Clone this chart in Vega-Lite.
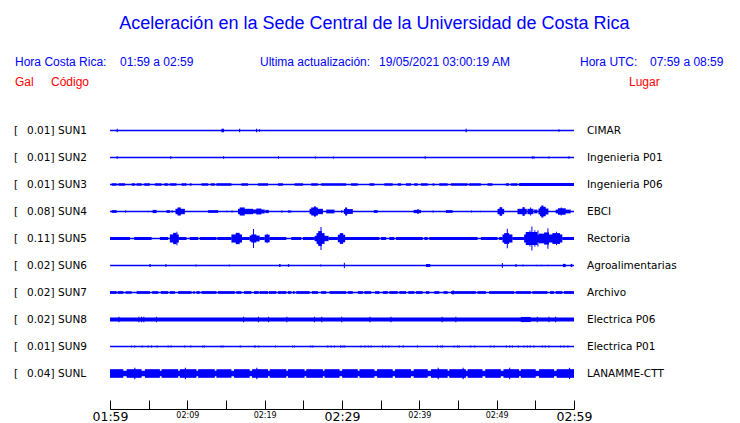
{
"$schema": "https://vega.github.io/schema/vega-lite/v6.json",
"width": 464, "height": 270, "autosize": "none",
"padding": {"left": 110, "top": 117, "right": 166, "bottom": 36},
"background": "#ffffff",
"config": {"view": {"stroke": null}},
"datasets": {
"stations": [
{"c":"SUN1","g":"0.01","l":"CIMAR"},
{"c":"SUN2","g":"0.01","l":"Ingenieria P01"},
{"c":"SUN3","g":"0.01","l":"Ingenieria P06"},
{"c":"SUN4","g":"0.08","l":"EBCI"},
{"c":"SUN5","g":"0.11","l":"Rectoria"},
{"c":"SUN6","g":"0.02","l":"Agroalimentarias"},
{"c":"SUN7","g":"0.02","l":"Archivo"},
{"c":"SUN8","g":"0.02","l":"Electrica P06"},
{"c":"SUN9","g":"0.01","l":"Electrica P01"},
{"c":"SUNL","g":"0.04","l":"LANAMME-CTT"}
],
"segments": [
{"c":"SUN1","a":0.86,"b":1.0,"h":0.13},{"c":"SUN1","a":14.4,"b":14.75,"h":0.13},{"c":"SUN1","a":16.69,"b":16.84,"h":0.13},{"c":"SUN1","a":18.88,"b":19.03,"h":0.13},{"c":"SUN1","a":19.27,"b":19.4,"h":0.09},{"c":"SUN1","a":45.98,"b":46.13,"h":0.13},{"c":"SUN1","a":57.98,"b":58.13,"h":0.1},
{"c":"SUN2","a":0.86,"b":1.0,"h":0.09},{"c":"SUN2","a":7.78,"b":7.92,"h":0.09},{"c":"SUN2","a":14.62,"b":14.76,"h":0.09},{"c":"SUN2","a":21.72,"b":21.86,"h":0.09},{"c":"SUN2","a":26.49,"b":26.63,"h":0.08},{"c":"SUN2","a":28.82,"b":28.96,"h":0.08},{"c":"SUN2","a":40.69,"b":40.83,"h":0.09},{"c":"SUN2","a":54.54,"b":54.68,"h":0.09},{"c":"SUN2","a":54.75,"b":54.89,"h":0.09},{"c":"SUN2","a":56.69,"b":56.83,"h":0.08},{"c":"SUN2","a":59.27,"b":59.41,"h":0.09},
{"c":"SUN3","a":0.22,"b":0.86,"h":0.09},{"c":"SUN3","a":1.08,"b":1.94,"h":0.09},{"c":"SUN3","a":2.8,"b":3.23,"h":0.09},{"c":"SUN3","a":3.44,"b":4.09,"h":0.09},{"c":"SUN3","a":4.43,"b":5.16,"h":0.09},{"c":"SUN3","a":5.81,"b":6.67,"h":0.09},{"c":"SUN3","a":7.01,"b":7.53,"h":0.09},{"c":"SUN3","a":7.74,"b":8.6,"h":0.09},{"c":"SUN3","a":9.25,"b":9.89,"h":0.09},{"c":"SUN3","a":10.32,"b":10.54,"h":0.09},{"c":"SUN3","a":11.83,"b":12.69,"h":0.09},{"c":"SUN3","a":13.03,"b":13.55,"h":0.09},{"c":"SUN3","a":13.76,"b":15.7,"h":0.09},{"c":"SUN3","a":16.99,"b":17.85,"h":0.09},{"c":"SUN3","a":19.14,"b":20.43,"h":0.09},{"c":"SUN3","a":21.72,"b":22.37,"h":0.09},{"c":"SUN3","a":23.87,"b":24.95,"h":0.09},{"c":"SUN3","a":26.02,"b":26.88,"h":0.09},{"c":"SUN3","a":27.31,"b":30.54,"h":0.09},{"c":"SUN3","a":31.18,"b":32.04,"h":0.09},{"c":"SUN3","a":33.55,"b":34.19,"h":0.09},{"c":"SUN3","a":35.48,"b":36.56,"h":0.09},{"c":"SUN3","a":37.2,"b":37.63,"h":0.09},{"c":"SUN3","a":38.28,"b":38.92,"h":0.09},{"c":"SUN3","a":39.35,"b":39.78,"h":0.09},{"c":"SUN3","a":40.22,"b":41.08,"h":0.09},{"c":"SUN3","a":41.72,"b":41.94,"h":0.09},{"c":"SUN3","a":42.58,"b":43.66,"h":0.09},{"c":"SUN3","a":44.09,"b":46.24,"h":0.09},{"c":"SUN3","a":46.45,"b":47.96,"h":0.09},{"c":"SUN3","a":48.82,"b":49.46,"h":0.09},{"c":"SUN3","a":51.18,"b":51.61,"h":0.09},{"c":"SUN3","a":51.83,"b":52.69,"h":0.09},{"c":"SUN3","a":52.9,"b":60,"h":0.12},
{"c":"SUN4","a":0.22,"b":0.86,"h":0.1},{"c":"SUN4","a":1.94,"b":2.09,"h":0.08},{"c":"SUN4","a":4.82,"b":4.97,"h":0.06},{"c":"SUN4","a":5.51,"b":6.02,"h":0.12},{"c":"SUN4","a":7.31,"b":7.74,"h":0.1},{"c":"SUN4","a":7.96,"b":8.1,"h":0.1},{"c":"SUN4","a":8.47,"b":9.68,"h":0.2},{"c":"SUN4","a":8.73,"b":9.16,"h":0.3},{"c":"SUN4","a":12.69,"b":13.98,"h":0.1},{"c":"SUN4","a":15.05,"b":15.19,"h":0.06},{"c":"SUN4","a":15.7,"b":15.84,"h":0.08},{"c":"SUN4","a":16.56,"b":18.49,"h":0.2},{"c":"SUN4","a":16.77,"b":17.42,"h":0.3},{"c":"SUN4","a":18.49,"b":20.0,"h":0.15},{"c":"SUN4","a":18.92,"b":19.57,"h":0.22},{"c":"SUN4","a":20.09,"b":20.52,"h":0.12},{"c":"SUN4","a":22.15,"b":22.3,"h":0.08},{"c":"SUN4","a":23.01,"b":23.44,"h":0.08},{"c":"SUN4","a":25.81,"b":27.53,"h":0.2},{"c":"SUN4","a":26.02,"b":26.88,"h":0.3},{"c":"SUN4","a":26.37,"b":26.62,"h":0.38},{"c":"SUN4","a":27.96,"b":29.03,"h":0.14},{"c":"SUN4","a":29.89,"b":30.04,"h":0.1},{"c":"SUN4","a":30.24,"b":31.4,"h":0.18},{"c":"SUN4","a":30.41,"b":30.67,"h":0.3},{"c":"SUN4","a":34.11,"b":34.62,"h":0.1},{"c":"SUN4","a":39.27,"b":40.22,"h":0.12},{"c":"SUN4","a":39.75,"b":39.9,"h":0.18},{"c":"SUN4","a":41.72,"b":41.87,"h":0.08},{"c":"SUN4","a":43.44,"b":44.3,"h":0.1},{"c":"SUN4","a":46.67,"b":46.82,"h":0.07},{"c":"SUN4","a":47.87,"b":48.0,"h":0.06},{"c":"SUN4","a":50.11,"b":50.97,"h":0.2},{"c":"SUN4","a":50.37,"b":50.71,"h":0.32},{"c":"SUN4","a":52.69,"b":53.89,"h":0.2},{"c":"SUN4","a":53.33,"b":53.63,"h":0.32},{"c":"SUN4","a":53.98,"b":54.75,"h":0.2},{"c":"SUN4","a":54.33,"b":54.46,"h":0.3},{"c":"SUN4","a":54.84,"b":55.27,"h":0.14},{"c":"SUN4","a":55.4,"b":56.69,"h":0.22},{"c":"SUN4","a":55.61,"b":56.34,"h":0.35},{"c":"SUN4","a":55.78,"b":56.04,"h":0.45},{"c":"SUN4","a":57.63,"b":59.57,"h":0.14},{"c":"SUN4","a":57.93,"b":58.92,"h":0.24},{"c":"SUN4","a":58.28,"b":58.41,"h":0.3},
{"c":"SUN5","a":0.0,"b":2.58,"h":0.11},{"c":"SUN5","a":3.14,"b":5.38,"h":0.11},{"c":"SUN5","a":6.45,"b":7.53,"h":0.11},{"c":"SUN5","a":8.9,"b":9.89,"h":0.11},{"c":"SUN5","a":10.32,"b":11.4,"h":0.11},{"c":"SUN5","a":11.61,"b":13.76,"h":0.11},{"c":"SUN5","a":13.89,"b":15.7,"h":0.11},{"c":"SUN5","a":17.07,"b":18.06,"h":0.11},{"c":"SUN5","a":19.35,"b":20.0,"h":0.11},{"c":"SUN5","a":20.65,"b":22.8,"h":0.11},{"c":"SUN5","a":23.44,"b":24.73,"h":0.11},{"c":"SUN5","a":24.95,"b":26.45,"h":0.11},{"c":"SUN5","a":28.26,"b":29.46,"h":0.11},{"c":"SUN5","a":30.41,"b":34.84,"h":0.11},{"c":"SUN5","a":35.05,"b":35.7,"h":0.11},{"c":"SUN5","a":36.13,"b":36.77,"h":0.11},{"c":"SUN5","a":36.99,"b":40.43,"h":0.11},{"c":"SUN5","a":40.65,"b":41.08,"h":0.11},{"c":"SUN5","a":41.29,"b":47.53,"h":0.11},{"c":"SUN5","a":47.96,"b":50.11,"h":0.11},{"c":"SUN5","a":50.32,"b":50.75,"h":0.11},{"c":"SUN5","a":52.04,"b":53.55,"h":0.11},{"c":"SUN5","a":58.49,"b":60.0,"h":0.11},
{"c":"SUN5","a":7.74,"b":8.9,"h":0.3},{"c":"SUN5","a":8.17,"b":8.6,"h":0.42},{"c":"SUN5","a":8.6,"b":8.72,"h":0.5},{"c":"SUN5","a":15.7,"b":17.07,"h":0.3},{"c":"SUN5","a":16.26,"b":16.77,"h":0.42},{"c":"SUN5","a":18.06,"b":19.35,"h":0.22},{"c":"SUN5","a":18.28,"b":18.92,"h":0.3},{"c":"SUN5","a":18.49,"b":18.62,"h":0.7},{"c":"SUN5","a":20.0,"b":20.65,"h":0.28},{"c":"SUN5","a":20.25,"b":20.38,"h":0.36},{"c":"SUN5","a":26.45,"b":28.26,"h":0.2},{"c":"SUN5","a":26.71,"b":27.74,"h":0.4},{"c":"SUN5","a":26.92,"b":27.4,"h":0.55},{"c":"SUN5","a":27.22,"b":27.35,"h":0.85},{"c":"SUN5","a":29.46,"b":30.41,"h":0.28},{"c":"SUN5","a":29.72,"b":30.15,"h":0.4},{"c":"SUN5","a":50.75,"b":52.04,"h":0.3},{"c":"SUN5","a":50.97,"b":51.61,"h":0.4},{"c":"SUN5","a":51.31,"b":51.44,"h":0.72},{"c":"SUN5","a":53.55,"b":58.49,"h":0.3},{"c":"SUN5","a":53.76,"b":55.27,"h":0.48},{"c":"SUN5","a":54.49,"b":54.62,"h":0.88},{"c":"SUN5","a":54.24,"b":54.36,"h":0.6},{"c":"SUN5","a":54.88,"b":55.0,"h":0.62},{"c":"SUN5","a":55.27,"b":55.4,"h":0.6},{"c":"SUN5","a":55.48,"b":56.13,"h":0.36},{"c":"SUN5","a":56.13,"b":56.77,"h":0.45},{"c":"SUN5","a":56.56,"b":56.69,"h":0.76},{"c":"SUN5","a":57.2,"b":58.19,"h":0.4},{"c":"SUN5","a":57.68,"b":57.8,"h":0.5},
{"c":"SUN6","a":5.08,"b":5.29,"h":0.1},{"c":"SUN6","a":7.14,"b":7.31,"h":0.1},{"c":"SUN6","a":11.05,"b":11.18,"h":0.07},{"c":"SUN6","a":15.35,"b":15.48,"h":0.07},{"c":"SUN6","a":21.85,"b":22.06,"h":0.1},{"c":"SUN6","a":23.01,"b":23.18,"h":0.1},{"c":"SUN6","a":27.18,"b":27.31,"h":0.08},{"c":"SUN6","a":30.24,"b":30.37,"h":0.2},{"c":"SUN6","a":40.86,"b":41.42,"h":0.11},{"c":"SUN6","a":50.67,"b":50.8,"h":0.18},{"c":"SUN6","a":52.4,"b":52.6,"h":0.1},{"c":"SUN6","a":53.33,"b":53.46,"h":0.07},{"c":"SUN6","a":55.14,"b":55.27,"h":0.06},{"c":"SUN6","a":55.7,"b":55.83,"h":0.06},{"c":"SUN6","a":56.56,"b":56.69,"h":0.06},{"c":"SUN6","a":58.58,"b":58.92,"h":0.12},{"c":"SUN6","a":59.57,"b":59.78,"h":0.12},
{"c":"SUN7","a":0.0,"b":0.86,"h":0.1},{"c":"SUN7","a":0.99,"b":1.72,"h":0.1},{"c":"SUN7","a":2.02,"b":2.8,"h":0.1},{"c":"SUN7","a":3.44,"b":5.16,"h":0.1},{"c":"SUN7","a":5.46,"b":6.24,"h":0.1},{"c":"SUN7","a":6.58,"b":7.53,"h":0.1},{"c":"SUN7","a":7.74,"b":8.39,"h":0.1},{"c":"SUN7","a":8.82,"b":10.54,"h":0.1},{"c":"SUN7","a":10.75,"b":10.97,"h":0.1},{"c":"SUN7","a":11.18,"b":11.61,"h":0.1},{"c":"SUN7","a":11.83,"b":13.76,"h":0.1},{"c":"SUN7","a":13.98,"b":16.13,"h":0.1},{"c":"SUN7","a":16.34,"b":16.99,"h":0.1},{"c":"SUN7","a":17.33,"b":18.28,"h":0.1},{"c":"SUN7","a":18.62,"b":19.23,"h":0.1},{"c":"SUN7","a":19.35,"b":20.43,"h":0.1},{"c":"SUN7","a":20.56,"b":21.51,"h":0.1},{"c":"SUN7","a":21.72,"b":22.8,"h":0.1},{"c":"SUN7","a":23.01,"b":23.44,"h":0.1},{"c":"SUN7","a":23.66,"b":23.87,"h":0.1},{"c":"SUN7","a":24.09,"b":25.81,"h":0.1},{"c":"SUN7","a":26.11,"b":26.88,"h":0.1},{"c":"SUN7","a":27.31,"b":27.96,"h":0.1},{"c":"SUN7","a":28.39,"b":30.54,"h":0.1},{"c":"SUN7","a":30.75,"b":31.4,"h":0.1},{"c":"SUN7","a":32.04,"b":32.69,"h":0.1},{"c":"SUN7","a":32.9,"b":33.76,"h":0.1},{"c":"SUN7","a":34.28,"b":34.84,"h":0.1},{"c":"SUN7","a":35.27,"b":35.91,"h":0.1},{"c":"SUN7","a":36.13,"b":37.2,"h":0.1},{"c":"SUN7","a":37.42,"b":38.28,"h":0.1},{"c":"SUN7","a":38.58,"b":39.35,"h":0.1},{"c":"SUN7","a":39.57,"b":40.43,"h":0.1},{"c":"SUN7","a":40.86,"b":41.29,"h":0.1},{"c":"SUN7","a":41.94,"b":42.58,"h":0.1},{"c":"SUN7","a":43.14,"b":43.66,"h":0.1},{"c":"SUN7","a":44.09,"b":47.31,"h":0.1},{"c":"SUN7","a":44.3,"b":44.43,"h":0.16},{"c":"SUN7","a":47.53,"b":48.6,"h":0.1},{"c":"SUN7","a":49.03,"b":52.26,"h":0.1},{"c":"SUN7","a":52.47,"b":54.41,"h":0.1},{"c":"SUN7","a":54.62,"b":56.56,"h":0.1},{"c":"SUN7","a":56.9,"b":57.42,"h":0.1},{"c":"SUN7","a":57.63,"b":58.49,"h":0.1},{"c":"SUN7","a":58.71,"b":60.0,"h":0.1},
{"c":"SUN8","a":0.0,"b":60.0,"h":0.14},{"c":"SUN8","a":53.12,"b":54.41,"h":0.19},{"c":"SUN8","a":1.08,"b":1.22,"h":0.2},{"c":"SUN8","a":3.66,"b":3.8,"h":0.2},{"c":"SUN8","a":4.0,"b":4.14,"h":0.2},{"c":"SUN8","a":4.3,"b":4.44,"h":0.2},{"c":"SUN8","a":5.94,"b":6.08,"h":0.2},{"c":"SUN8","a":17.2,"b":17.34,"h":0.2},{"c":"SUN8","a":19.14,"b":19.28,"h":0.2},{"c":"SUN8","a":20.43,"b":20.57,"h":0.2},{"c":"SUN8","a":22.8,"b":22.94,"h":0.2},{"c":"SUN8","a":26.37,"b":26.51,"h":0.2},{"c":"SUN8","a":27.31,"b":27.45,"h":0.2},{"c":"SUN8","a":29.89,"b":30.03,"h":0.2},{"c":"SUN8","a":33.55,"b":33.69,"h":0.2},{"c":"SUN8","a":36.26,"b":36.4,"h":0.2},{"c":"SUN8","a":42.88,"b":43.02,"h":0.2},{"c":"SUN8","a":44.65,"b":44.79,"h":0.2},{"c":"SUN8","a":55.18,"b":55.32,"h":0.2},{"c":"SUN8","a":56.69,"b":56.83,"h":0.2},{"c":"SUN8","a":57.55,"b":57.69,"h":0.2},
{"c":"SUN9","a":2.71,"b":2.85,"h":0.07},{"c":"SUN9","a":3.14,"b":3.28,"h":0.07},{"c":"SUN9","a":4.09,"b":4.23,"h":0.07},{"c":"SUN9","a":4.86,"b":5.0,"h":0.07},{"c":"SUN9","a":5.29,"b":5.43,"h":0.07},{"c":"SUN9","a":6.02,"b":6.16,"h":0.07},{"c":"SUN9","a":7.44,"b":7.58,"h":0.07},{"c":"SUN9","a":7.83,"b":7.97,"h":0.07},{"c":"SUN9","a":9.59,"b":9.73,"h":0.07},{"c":"SUN9","a":10.37,"b":10.51,"h":0.07},{"c":"SUN9","a":11.91,"b":12.05,"h":0.07},{"c":"SUN9","a":12.13,"b":12.27,"h":0.07},{"c":"SUN9","a":14.28,"b":14.42,"h":0.07},{"c":"SUN9","a":14.54,"b":14.68,"h":0.07},{"c":"SUN9","a":16.77,"b":16.91,"h":0.07},{"c":"SUN9","a":18.67,"b":18.81,"h":0.1},{"c":"SUN9","a":19.18,"b":19.32,"h":0.07},{"c":"SUN9","a":21.33,"b":21.47,"h":0.07},{"c":"SUN9","a":23.53,"b":23.67,"h":0.07},{"c":"SUN9","a":23.78,"b":23.92,"h":0.07},{"c":"SUN9","a":25.89,"b":26.03,"h":0.07},{"c":"SUN9","a":26.15,"b":26.29,"h":0.07},{"c":"SUN9","a":28.09,"b":28.23,"h":0.07},{"c":"SUN9","a":28.52,"b":28.66,"h":0.07},{"c":"SUN9","a":28.95,"b":29.09,"h":0.07},{"c":"SUN9","a":29.76,"b":29.9,"h":0.1},{"c":"SUN9","a":30.06,"b":30.2,"h":0.07},{"c":"SUN9","a":30.28,"b":30.42,"h":0.07},{"c":"SUN9","a":32.39,"b":32.53,"h":0.07},{"c":"SUN9","a":32.9,"b":33.04,"h":0.07},{"c":"SUN9","a":33.33,"b":33.47,"h":0.07},{"c":"SUN9","a":33.68,"b":33.82,"h":0.07},{"c":"SUN9","a":35.18,"b":35.32,"h":0.07},{"c":"SUN9","a":35.57,"b":35.71,"h":0.07},{"c":"SUN9","a":36.0,"b":36.14,"h":0.07},{"c":"SUN9","a":37.33,"b":37.47,"h":0.07},{"c":"SUN9","a":37.85,"b":37.99,"h":0.07},{"c":"SUN9","a":39.7,"b":39.84,"h":0.07},{"c":"SUN9","a":42.28,"b":42.42,"h":0.07},{"c":"SUN9","a":42.71,"b":42.85,"h":0.07},{"c":"SUN9","a":42.92,"b":43.06,"h":0.07},{"c":"SUN9","a":44.43,"b":44.57,"h":0.07},{"c":"SUN9","a":44.86,"b":45.0,"h":0.07},{"c":"SUN9","a":45.08,"b":45.22,"h":0.07},{"c":"SUN9","a":46.58,"b":46.72,"h":0.07},{"c":"SUN9","a":47.1,"b":47.24,"h":0.07},{"c":"SUN9","a":49.16,"b":49.3,"h":0.07},{"c":"SUN9","a":49.59,"b":49.73,"h":0.07},{"c":"SUN9","a":51.18,"b":51.32,"h":0.07},{"c":"SUN9","a":51.61,"b":51.75,"h":0.07},{"c":"SUN9","a":51.96,"b":52.1,"h":0.07},{"c":"SUN9","a":52.73,"b":52.87,"h":0.07},{"c":"SUN9","a":53.46,"b":53.6,"h":0.07},{"c":"SUN9","a":53.89,"b":54.03,"h":0.07},{"c":"SUN9","a":54.28,"b":54.42,"h":0.07},{"c":"SUN9","a":54.75,"b":54.89,"h":0.07},{"c":"SUN9","a":55.83,"b":55.97,"h":0.07},{"c":"SUN9","a":56.22,"b":56.36,"h":0.07},{"c":"SUN9","a":56.69,"b":56.83,"h":0.07},{"c":"SUN9","a":58.19,"b":58.33,"h":0.07},{"c":"SUN9","a":58.62,"b":58.76,"h":0.07},{"c":"SUN9","a":59.14,"b":59.28,"h":0.07},
{"c":"SUNL","a":0.0,"b":60.0,"h":0.2},{"c":"SUNL","a":0.0,"b":1.72,"h":0.32},{"c":"SUNL","a":2.15,"b":4.09,"h":0.32},{"c":"SUNL","a":4.52,"b":6.45,"h":0.32},{"c":"SUNL","a":6.67,"b":8.82,"h":0.32},{"c":"SUNL","a":9.03,"b":11.18,"h":0.32},{"c":"SUNL","a":11.4,"b":13.55,"h":0.32},{"c":"SUNL","a":13.76,"b":15.7,"h":0.32},{"c":"SUNL","a":16.04,"b":18.06,"h":0.32},{"c":"SUNL","a":18.37,"b":20.43,"h":0.32},{"c":"SUNL","a":20.65,"b":22.8,"h":0.32},{"c":"SUNL","a":23.01,"b":25.16,"h":0.32},{"c":"SUNL","a":25.38,"b":27.53,"h":0.32},{"c":"SUNL","a":27.74,"b":29.68,"h":0.32},{"c":"SUNL","a":30.02,"b":32.04,"h":0.32},{"c":"SUNL","a":32.26,"b":34.19,"h":0.32},{"c":"SUNL","a":34.54,"b":36.56,"h":0.32},{"c":"SUNL","a":36.86,"b":38.92,"h":0.32},{"c":"SUNL","a":39.27,"b":41.08,"h":0.32},{"c":"SUNL","a":41.51,"b":43.66,"h":0.32},{"c":"SUNL","a":43.87,"b":46.02,"h":0.32},{"c":"SUNL","a":46.24,"b":48.17,"h":0.32},{"c":"SUNL","a":48.52,"b":50.54,"h":0.32},{"c":"SUNL","a":50.88,"b":52.9,"h":0.32},{"c":"SUNL","a":53.12,"b":55.05,"h":0.32},{"c":"SUNL","a":55.48,"b":57.42,"h":0.32},{"c":"SUNL","a":57.76,"b":60.0,"h":0.32},{"c":"SUNL","a":3.14,"b":3.28,"h":0.42},{"c":"SUNL","a":9.68,"b":9.82,"h":0.42},{"c":"SUNL","a":18.92,"b":19.06,"h":0.42},{"c":"SUNL","a":42.37,"b":42.51,"h":0.42},{"c":"SUNL","a":45.59,"b":45.73,"h":0.42},{"c":"SUNL","a":51.61,"b":51.75,"h":0.42},{"c":"SUNL","a":59.35,"b":59.49,"h":0.42}
]
},
"resolve": {"scale": {"y": "independent"}, "axis": {"x": "independent"}},
"layer": [
{
"resolve": {"axis": {"x": "independent"}},
"layer": [
{"data": {"name": "stations"},
 "mark": {"type": "rule", "color": "#0000ff", "strokeWidth": 1.5},
 "encoding": {
  "x": {"datum": 0, "type": "quantitative", "scale": {"domain": [0, 60], "nice": false, "zero": false},
   "axis": {"orient": "bottom", "values": [0,5,10,15,20,25,30,35,40,45,50,55,60], "offset": 22, "tickSize": -9, "tickColor": "#000000", "tickWidth": 1, "domainColor": "#000000", "domainWidth": 1, "grid": false, "title": null, "labelColor": "#000000", "labelFont": "DejaVu Sans", "labelFontSize": 8, "labelBaseline": "middle", "labelExpr": "(datum.value % 10 == 0 && datum.value % 30 != 0) ? timeFormat(datetime(2021, 4, 19, 1, 59 + datum.value), '%H:%M') : ''", "labelPadding": 15.5, "labelFlush": false, "labelOverlap": false}},
  "x2": {"datum": 60},
  "y": {"field": "c", "type": "nominal", "scale": {"type": "band", "domain": ["SUN1","SUN2","SUN3","SUN4","SUN5","SUN6","SUN7","SUN8","SUN9","SUNL"], "padding": 0}, "axis": null}
 }},
{"data": {"name": "segments"},
 "mark": {"type": "bar", "color": "#0000ff"},
 "encoding": {
  "x": {"field": "a", "type": "quantitative", "scale": {"domain": [0, 60], "nice": false, "zero": false},
   "axis": {"orient": "bottom", "values": [0, 30, 60], "offset": 22, "tickSize": -9, "tickOpacity": 0, "domain": false, "grid": false, "title": null, "labelColor": "#000000", "labelFont": "DejaVu Sans", "labelFontSize": 12.5, "labelBaseline": "middle", "labelExpr": "timeFormat(datetime(2021, 4, 19, 1, 59 + datum.value), '%H:%M')", "labelPadding": 16.5, "labelFlush": false, "labelOverlap": false}},
  "x2": {"field": "b"},
  "y": {"field": "c", "type": "nominal", "scale": {"type": "band", "domain": ["SUN1","SUN2","SUN3","SUN4","SUN5","SUN6","SUN7","SUN8","SUN9","SUNL"], "padding": 0}, "axis": null},
  "size": {"field": "h", "type": "quantitative", "scale": {"domain": [0, 1], "range": [0, 27]}, "legend": null}
 }},
{"data": {"name": "stations"},
 "mark": {"type": "text", "align": "left", "baseline": "middle", "font": "DejaVu Sans", "fontSize": 10.5, "color": "#000000"},
 "encoding": {
  "x": {"datum": -12.41, "type": "quantitative", "scale": {"domain": [0, 60], "nice": false, "zero": false}, "axis": null},
  "y": {"field": "c", "type": "nominal", "scale": {"type": "band", "domain": ["SUN1","SUN2","SUN3","SUN4","SUN5","SUN6","SUN7","SUN8","SUN9","SUNL"], "padding": 0}, "axis": null},
  "text": {"value": "["}
 }},
{"data": {"name": "stations"},
 "mark": {"type": "text", "align": "right", "baseline": "middle", "font": "DejaVu Sans", "fontSize": 10.5, "color": "#000000"},
 "encoding": {
  "x": {"datum": -7.7, "type": "quantitative", "scale": {"domain": [0, 60], "nice": false, "zero": false}, "axis": null},
  "y": {"field": "c", "type": "nominal", "scale": {"type": "band", "domain": ["SUN1","SUN2","SUN3","SUN4","SUN5","SUN6","SUN7","SUN8","SUN9","SUNL"], "padding": 0}, "axis": null},
  "text": {"field": "g"}
 }},
{"data": {"name": "stations"},
 "mark": {"type": "text", "align": "left", "baseline": "middle", "font": "DejaVu Sans", "fontSize": 10.5, "color": "#000000"},
 "encoding": {
  "x": {"datum": -7.7, "type": "quantitative", "scale": {"domain": [0, 60], "nice": false, "zero": false}, "axis": null},
  "y": {"field": "c", "type": "nominal", "scale": {"type": "band", "domain": ["SUN1","SUN2","SUN3","SUN4","SUN5","SUN6","SUN7","SUN8","SUN9","SUNL"], "padding": 0}, "axis": null},
  "text": {"value": "]"}
 }},
{"data": {"name": "stations"},
 "mark": {"type": "text", "align": "left", "baseline": "middle", "font": "DejaVu Sans", "fontSize": 10.5, "color": "#000000"},
 "encoding": {
  "x": {"datum": -6.72, "type": "quantitative", "scale": {"domain": [0, 60], "nice": false, "zero": false}, "axis": null},
  "y": {"field": "c", "type": "nominal", "scale": {"type": "band", "domain": ["SUN1","SUN2","SUN3","SUN4","SUN5","SUN6","SUN7","SUN8","SUN9","SUNL"], "padding": 0}, "axis": null},
  "text": {"field": "c"}
 }},
{"data": {"name": "stations"},
 "mark": {"type": "text", "align": "left", "baseline": "middle", "font": "DejaVu Sans", "fontSize": 10.5, "color": "#000000"},
 "encoding": {
  "x": {"datum": 61.68, "type": "quantitative", "scale": {"domain": [0, 60], "nice": false, "zero": false}, "axis": null},
  "y": {"field": "c", "type": "nominal", "scale": {"type": "band", "domain": ["SUN1","SUN2","SUN3","SUN4","SUN5","SUN6","SUN7","SUN8","SUN9","SUNL"], "padding": 0}, "axis": null},
  "text": {"field": "l"}
 }}
]
},
{
"data": {"values": [{}]},
"layer": [
{"mark": {"type": "text", "align": "center", "baseline": "middle", "font": "Liberation Sans", "fontSize": 18, "color": "#0000ff"},
 "encoding": {"x": {"datum": 34.2, "type": "quantitative", "scale": {"domain": [0, 60], "nice": false, "zero": false}, "axis": null}, "y": {"datum": -2.95, "type": "quantitative", "scale": {"domain": [0.5, 10.5], "reverse": true, "nice": false, "zero": false}, "axis": null}, "text": {"value": "Aceleración en la Sede Central de la Universidad de Costa Rica"}}},
{"mark": {"type": "text", "align": "left", "baseline": "middle", "font": "Liberation Sans", "fontSize": 12, "color": "#0000ff"},
 "encoding": {"x": {"datum": -12.28, "type": "quantitative", "scale": {"domain": [0, 60], "nice": false, "zero": false}, "axis": null}, "y": {"datum": -1.55, "type": "quantitative", "scale": {"domain": [0.5, 10.5], "reverse": true, "nice": false, "zero": false}, "axis": null}, "text": {"value": "Hora Costa Rica:"}}},
{"mark": {"type": "text", "align": "left", "baseline": "middle", "font": "Liberation Sans", "fontSize": 12, "color": "#0000ff"},
 "encoding": {"x": {"datum": 1.29, "type": "quantitative", "scale": {"domain": [0, 60], "nice": false, "zero": false}, "axis": null}, "y": {"datum": -1.55, "type": "quantitative", "scale": {"domain": [0.5, 10.5], "reverse": true, "nice": false, "zero": false}, "axis": null}, "text": {"value": "01:59 a 02:59"}}},
{"mark": {"type": "text", "align": "left", "baseline": "middle", "font": "Liberation Sans", "fontSize": 12, "color": "#0000ff"},
 "encoding": {"x": {"datum": 19.4, "type": "quantitative", "scale": {"domain": [0, 60], "nice": false, "zero": false}, "axis": null}, "y": {"datum": -1.55, "type": "quantitative", "scale": {"domain": [0.5, 10.5], "reverse": true, "nice": false, "zero": false}, "axis": null}, "text": {"value": "Ultima actualización:"}}},
{"mark": {"type": "text", "align": "left", "baseline": "middle", "font": "Liberation Sans", "fontSize": 12, "color": "#0000ff"},
 "encoding": {"x": {"datum": 34.8, "type": "quantitative", "scale": {"domain": [0, 60], "nice": false, "zero": false}, "axis": null}, "y": {"datum": -1.55, "type": "quantitative", "scale": {"domain": [0.5, 10.5], "reverse": true, "nice": false, "zero": false}, "axis": null}, "text": {"value": "19/05/2021 03:00:19 AM"}}},
{"mark": {"type": "text", "align": "left", "baseline": "middle", "font": "Liberation Sans", "fontSize": 12, "color": "#0000ff"},
 "encoding": {"x": {"datum": 60.78, "type": "quantitative", "scale": {"domain": [0, 60], "nice": false, "zero": false}, "axis": null}, "y": {"datum": -1.55, "type": "quantitative", "scale": {"domain": [0.5, 10.5], "reverse": true, "nice": false, "zero": false}, "axis": null}, "text": {"value": "Hora UTC:"}}},
{"mark": {"type": "text", "align": "left", "baseline": "middle", "font": "Liberation Sans", "fontSize": 12, "color": "#0000ff"},
 "encoding": {"x": {"datum": 69.83, "type": "quantitative", "scale": {"domain": [0, 60], "nice": false, "zero": false}, "axis": null}, "y": {"datum": -1.55, "type": "quantitative", "scale": {"domain": [0.5, 10.5], "reverse": true, "nice": false, "zero": false}, "axis": null}, "text": {"value": "07:59 a 08:59"}}},
{"mark": {"type": "text", "align": "left", "baseline": "middle", "font": "Liberation Sans", "fontSize": 12, "color": "#ff0000"},
 "encoding": {"x": {"datum": -12.28, "type": "quantitative", "scale": {"domain": [0, 60], "nice": false, "zero": false}, "axis": null}, "y": {"datum": -0.8, "type": "quantitative", "scale": {"domain": [0.5, 10.5], "reverse": true, "nice": false, "zero": false}, "axis": null}, "text": {"value": "Gal"}}},
{"mark": {"type": "text", "align": "left", "baseline": "middle", "font": "Liberation Sans", "fontSize": 12, "color": "#ff0000"},
 "encoding": {"x": {"datum": -7.63, "type": "quantitative", "scale": {"domain": [0, 60], "nice": false, "zero": false}, "axis": null}, "y": {"datum": -0.8, "type": "quantitative", "scale": {"domain": [0.5, 10.5], "reverse": true, "nice": false, "zero": false}, "axis": null}, "text": {"value": "Código"}}},
{"mark": {"type": "text", "align": "left", "baseline": "middle", "font": "Liberation Sans", "fontSize": 12, "color": "#ff0000"},
 "encoding": {"x": {"datum": 67.11, "type": "quantitative", "scale": {"domain": [0, 60], "nice": false, "zero": false}, "axis": null}, "y": {"datum": -0.8, "type": "quantitative", "scale": {"domain": [0.5, 10.5], "reverse": true, "nice": false, "zero": false}, "axis": null}, "text": {"value": "Lugar"}}}
]
}
]
}
